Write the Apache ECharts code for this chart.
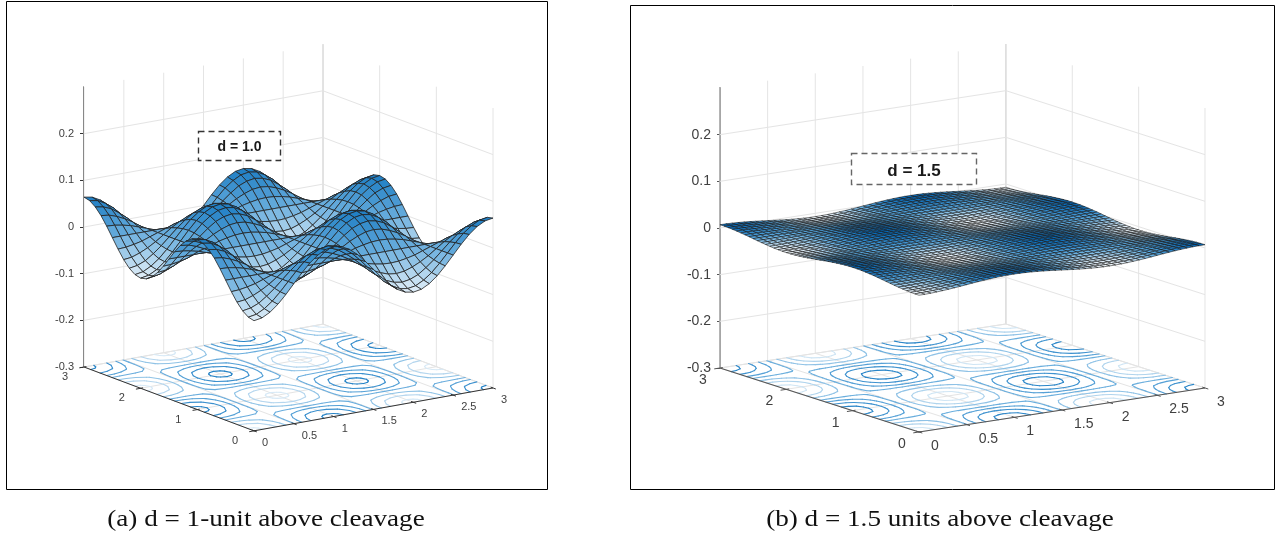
<!DOCTYPE html>
<html><head><meta charset="utf-8">
<style>html,body{margin:0;padding:0;background:#fff}#c{width:1275px;height:538px}</style>
<script src="https://cdn.jsdelivr.net/npm/echarts@6/dist/echarts.min.js"></script>
</head><body><div id="c"></div>
<script>
// ---- tick values and labels
const xTicks = [0,0.5,1,1.5,2,2.5,3];
const xTickLabels = ['0','0.5','1','1.5','2','2.5','3'];
const yTicks = [0,1,2,3];
const yTickLabels = ['0','1','2','3'];
const zTicks = [-0.3,-0.2,-0.1,0,0.1,0.2];
// ---- surface (a), z in thousandths, rows along x, 31 samples
const rowA0 = [-64,-61,-52,-38,-20,0,20,38,52,61,64,61,52,38,20,0,-20,-38,-52,-61,-64,-61,-52,-38,-20,0,20,38,52,61,64];
const rowA1 = [-61,-58,-49,-36,-19,0,19,36,49,58,61,58,49,36,19,0,-19,-36,-49,-58,-61,-58,-49,-36,-19,0,19,36,49,58,61];
const rowA2 = [-52,-49,-42,-30,-16,0,16,30,42,49,52,49,42,30,16,0,-16,-30,-42,-49,-52,-49,-42,-30,-16,0,16,30,42,49,52];
const rowA3 = [-38,-36,-30,-22,-12,0,12,22,30,36,38,36,30,22,12,0,-12,-22,-30,-36,-38,-36,-30,-22,-12,0,12,22,30,36,38];
const rowA4 = [-20,-19,-16,-12,-6,0,6,12,16,19,20,19,16,12,6,0,-6,-12,-16,-19,-20,-19,-16,-12,-6,0,6,12,16,19,20];
const rowA5 = [0,0,0,0,0,0,0,0,0,0,0,0,0,0,0,0,0,0,0,0,0,0,0,0,0,0,0,0,0,0,0];
// ---- surface (b), z in ten-thousandths, rows along x, 49 samples
const rowB0 = [-70,-69,-65,-58,-49,-39,-27,-14,0,14,27,39,49,58,65,69,70,69,65,58,49,39,27,14,0,-14,-27,-39,-49,-58,-65,-69,-70,-69,-65,-58,-49,-39,-27,-14,0,14,27,39,49,58,65,69,70];
const rowB1 = [-69,-67,-63,-57,-49,-38,-26,-13,0,13,26,38,49,57,63,67,69,67,63,57,49,38,26,13,0,-13,-26,-38,-49,-57,-63,-67,-69,-67,-63,-57,-49,-38,-26,-13,0,13,26,38,49,57,63,67,69];
const rowB2 = [-65,-63,-60,-54,-46,-36,-25,-13,0,13,25,36,46,54,60,63,65,63,60,54,46,36,25,13,0,-13,-25,-36,-46,-54,-60,-63,-65,-63,-60,-54,-46,-36,-25,-13,0,13,25,36,46,54,60,63,65];
const rowB3 = [-58,-57,-54,-48,-41,-32,-22,-11,0,11,22,32,41,48,54,57,58,57,54,48,41,32,22,11,0,-11,-22,-32,-41,-48,-54,-57,-58,-57,-54,-48,-41,-32,-22,-11,0,11,22,32,41,48,54,57,58];
const rowB4 = [-49,-49,-46,-41,-35,-27,-19,-10,0,10,19,27,35,41,46,49,49,49,46,41,35,27,19,10,0,-10,-19,-27,-35,-41,-46,-49,-49,-49,-46,-41,-35,-27,-19,-10,0,10,19,27,35,41,46,49,49];
const rowB5 = [-39,-38,-36,-32,-27,-22,-15,-8,0,8,15,22,27,32,36,38,39,38,36,32,27,22,15,8,0,-8,-15,-22,-27,-32,-36,-38,-39,-38,-36,-32,-27,-22,-15,-8,0,8,15,22,27,32,36,38,39];
const rowB6 = [-27,-26,-25,-22,-19,-15,-10,-5,0,5,10,15,19,22,25,26,27,26,25,22,19,15,10,5,0,-5,-10,-15,-19,-22,-25,-26,-27,-26,-25,-22,-19,-15,-10,-5,0,5,10,15,19,22,25,26,27];
const rowB7 = [-14,-13,-13,-11,-10,-8,-5,-3,0,3,5,8,10,11,13,13,14,13,13,11,10,8,5,3,0,-3,-5,-8,-10,-11,-13,-13,-14,-13,-13,-11,-10,-8,-5,-3,0,3,5,8,10,11,13,13,14];
const rowB8 = rowB0.map(() => 0);
// ---- contour levels
const levelsA = [-0.059,-0.04,-0.02,0.002,0.02,0.04,0.059];
const levelsB = [-0.0060,-0.0041,-0.0021,0.0002,0.0021,0.0041,0.0060];
// ---- text
const captionA = '(a) d = 1-unit above cleavage';
const captionB = '(b) d = 1.5 units above cleavage';
const noteA = 'd = 1.0';
const noteB = 'd = 1.5';

const N = r => r.map(v => -v);
const A0=rowA0,A1=rowA1,A2=rowA2,A3=rowA3,A4=rowA4,A5=rowA5;
const gridA = [A0,A1,A2,A3,A4,A5,N(A4),N(A3),N(A2),N(A1),N(A0),N(A1),N(A2),N(A3),N(A4),A5,A4,A3,A2,A1,A0,A1,A2,A3,A4,A5,N(A4),N(A3),N(A2),N(A1),N(A0)];
const B0=rowB0,B1=rowB1,B2=rowB2,B3=rowB3,B4=rowB4,B5=rowB5,B6=rowB6,B7=rowB7,B8=rowB8;
const gridB = [B0,B1,B2,B3,B4,B5,B6,B7,B8,N(B7),N(B6),N(B5),N(B4),N(B3),N(B2),N(B1),N(B0),N(B1),N(B2),N(B3),N(B4),N(B5),N(B6),N(B7),B8,B7,B6,B5,B4,B3,B2,B1,B0,B1,B2,B3,B4,B5,B6,B7,B8,N(B7),N(B6),N(B5),N(B4),N(B3),N(B2),N(B1),N(B0)];
const heightsA = gridA.map(r => r.map(v => v*0.001));
const heightsB = gridB.map(r => r.map(v => v*0.0001));

const lineRamp=[[224,238,248],[108,175,222],[30,126,196]];
function ramp(t,stops){
  t=Math.max(0,Math.min(1,t));
  const a=t<.5?stops[0]:stops[1],b=t<.5?stops[1]:stops[2],f=t<.5?t*2:(t-.5)*2;
  return 'rgb('+a.map((c,k)=>Math.round(c+(b[k]-c)*f)).join(',')+')';
}
function contourSegs(h,level){
  const n=h.length,s=3/(n-1),out=[];
  const cross=(x1,y1,a,x2,y2,b)=>{const f=(level-a)/(b-a);return [x1+(x2-x1)*f,y1+(y2-y1)*f];};
  for(let j=0;j<n-1;j++)for(let i=0;i<h[j].length-1;i++){
    const a=h[j][i],b=h[j][i+1],c=h[j+1][i+1],d=h[j+1][i],x=i*s,y=j*s,p=[];
    if((a>level)!==(b>level))p.push(cross(x,y,a,x+s,y,b));
    if((b>level)!==(c>level))p.push(cross(x+s,y,b,x+s,y+s,c));
    if((c>level)!==(d>level))p.push(cross(x+s,y+s,c,x,y+s,d));
    if((d>level)!==(a>level))p.push(cross(x,y+s,d,x,y,a));
    for(let k=0;k+1<p.length;k+=2)out.push([p[k][0],p[k][1],p[k+1][0],p[k+1][1],level]);
  }
  return out;
}
const series=[],grids=[],xAxes=[],yAxes=[];
function panel(idx,o){
  const v=o.view,h=o.h;
  const prj=(api,x,y,z)=>api.coord([v.u0+v.ux*x+v.uy*y, z+v.v0+v.vx*x+v.vy*y]);
  grids.push({left:o.left,top:o.top,width:o.width,height:o.height,containLabel:false});
  xAxes.push({gridIndex:idx,type:'value',min:0,max:1,show:false});
  yAxes.push({gridIndex:idx,type:'value',min:-0.3,max:0.3,interval:0.1,position:'left',
    axisLine:{show:true,onZero:false,lineStyle:{color:o.axisColor,width:o.axisWidth}},
    axisTick:{show:true,length:3,customValues:zTicks,lineStyle:{color:o.axisColor}},
    axisLabel:{show:true,customValues:zTicks,margin:o.zMargin,color:'#404040',fontSize:o.font,fontFamily:'Liberation Sans',
      formatter:val=>String(Math.round(val*10)/10)},
    splitLine:{show:false}});
  const base={type:'custom',coordinateSystem:'cartesian2d',xAxisIndex:idx,yAxisIndex:idx,encode:{x:0,y:1},clip:false,animation:false,silent:true,progressive:0};
  // walls and floor grid
  const lines=[];
  xTicks.forEach(x=>{lines.push([x,3,-0.3,x,3,0.3,x===3?1:0]);lines.push([x,0,-0.3,x,3,-0.3,0]);});
  yTicks.forEach(y=>{if(y<3){lines.push([3,y,-0.3,3,y,0.3,0]);}lines.push([0,y,-0.3,3,y,-0.3,0]);});
  zTicks.forEach(z=>{lines.push([0,3,z,3,3,z,0]);lines.push([3,0,z,3,3,z,0]);});
  series.push(Object.assign({},base,{z:1,data:lines,renderItem:(p,api)=>{
    const a=prj(api,api.value(0),api.value(1),api.value(2)),b=prj(api,api.value(3),api.value(4),api.value(5));
    return {type:'line',shape:{x1:a[0],y1:a[1],x2:b[0],y2:b[1]},style:{stroke:api.value(6)?'#c6c6c6':'#e4e4e4',lineWidth:1}};
  }}));
  // contours on the floor
  const zs=h.flat(),zMin=Math.min(...zs),zMax=Math.max(...zs);
  const segs=[];o.levels.forEach(l=>segs.push(...contourSegs(h,l)));
  series.push(Object.assign({},base,{z:2,data:segs,renderItem:(p,api)=>{
    const a=prj(api,api.value(0),api.value(1),-0.3),b=prj(api,api.value(2),api.value(3),-0.3);
    const t=(api.value(4)-zMin)/(zMax-zMin);
    return {type:'line',shape:{x1:a[0],y1:a[1],x2:b[0],y2:b[1]},style:{stroke:ramp(t,lineRamp),lineWidth:1.1,lineCap:'round'}};
  }}));
  // floor axes with ticks
  const ax=[[0,0,3,0],[0,0,0,3]];
  xTicks.forEach(x=>ax.push([x,-0.05,x,0.04]));
  yTicks.forEach(y=>ax.push([-0.06,y,0.03,y]));
  series.push(Object.assign({},base,{z:3,data:ax,renderItem:(p,api)=>{
    const a=prj(api,api.value(0),api.value(1),-0.3),b=prj(api,api.value(2),api.value(3),-0.3);
    return {type:'line',shape:{x1:a[0],y1:a[1],x2:b[0],y2:b[1]},style:{stroke:o.axisColor,lineWidth:p.dataIndex<2?o.floorWidth:1}};
  }}));
  // floor tick labels
  const lab=[];
  xTicks.forEach((x,i)=>lab.push([x,0,0,i]));
  yTicks.forEach((y,i)=>lab.push([0,y,1,i]));
  series.push(Object.assign({},base,{z:3,data:lab,renderItem:(p,api)=>{
    const q=prj(api,api.value(0),api.value(1),-0.3),isY=api.value(2)===1,i=api.value(3);
    const off=isY?o.yOff:o.xOff;
    return {type:'text',x:q[0]+off[0],y:q[1]+off[1],style:{text:isY?yTickLabels[i]:xTickLabels[i],fill:'#404040',
      font:o.font+'px "Liberation Sans"',textAlign:isY?'center':'left',textVerticalAlign:'middle'}};
  }}));
  // surface patches, back to front
  const n=h.length,s=3/(n-1),cells=[];
  for(let j=n-2;j>=0;j--)for(let i=n-2;i>=0;i--)cells.push([i*s,j*s,h[j][i],h[j][i+1],h[j+1][i+1],h[j+1][i]]);
  series.push(Object.assign({},base,{z:4,data:cells,renderItem:(p,api)=>{
    const x=api.value(0),y=api.value(1),a=api.value(2),b=api.value(3),c=api.value(4),d=api.value(5);
    const pts=[prj(api,x,y,a),prj(api,x+s,y,b),prj(api,x+s,y+s,c),prj(api,x,y+s,d)];
    return {type:'polygon',shape:{points:pts},style:{fill:ramp(((a+b+c+d)/4-zMin)/(zMax-zMin),o.faceRamp),stroke:o.edge,lineWidth:o.edgeWidth,lineJoin:'round'}};
  }}));
}
panel(0,{left:83,top:87,width:410,height:280,h:heightsA,levels:levelsA,
  view:{u0:.4171,ux:.1943,uy:-.1382,v0:-.1368,vx:.03063,vy:.0456},
  faceRamp:[[224,238,248],[108,175,222],[30,126,196]],
  axisColor:'#333333',axisWidth:1,floorWidth:1,zMargin:9,font:11,xOff:[8,12],yOff:[-19,10],edge:'#222222',edgeWidth:.8});
panel(1,{left:720,top:88,width:485,height:280,h:heightsB,levels:levelsB,
  view:{u0:.4103,ux:.19656,uy:-.1368,v0:-.1371,vx:.03143,vy:.0457},
  faceRamp:[[245,250,254],[90,170,225],[5,105,185]],
  axisColor:'#555555',axisWidth:1.6,floorWidth:1.2,zMargin:9,font:14,xOff:[12,14],yOff:[-17,12],edge:'#141414',edgeWidth:.55});

const frame=(x,y,w,h)=>({type:'rect',z:100,shape:{x,y,width:w,height:h},style:{fill:'none',stroke:'#000',lineWidth:1}});
const note=(x,y,w,h,t,fs,col,dy)=>[
  {type:'rect',z:100,shape:{x,y,width:w,height:h},style:{fill:'#fff',stroke:col,lineWidth:1.4,lineDash:[6,4]}},
  {type:'text',z:101,x:x+w/2,y:y+h/2+dy,style:{text:t,fill:'#1a1a1a',font:'bold '+fs+'px "Liberation Sans"',textAlign:'center',textVerticalAlign:'middle'}}];
const cap=(x,t,sx)=>({type:'text',z:100,x,y:520,scaleX:sx,style:{text:t,fill:'#111',font:'23px "Liberation Serif"',textAlign:'center',textVerticalAlign:'middle'}});
const chart=echarts.init(document.getElementById('c'),null,{renderer:'canvas'});
chart.setOption({animation:false,backgroundColor:'#fff',grid:grids,xAxis:xAxes,yAxis:yAxes,series,
  graphic:{elements:[frame(6.5,1.5,541,488),frame(630.5,5.5,644,484),
    ...note(198.5,131.5,82,29,noteA,14,'#333',1),...note(851.5,153.5,125,31,noteB,17,'#666',2),
    cap(266,captionA,1.18),cap(940,captionB,1.18)]}});
</script></body></html>
